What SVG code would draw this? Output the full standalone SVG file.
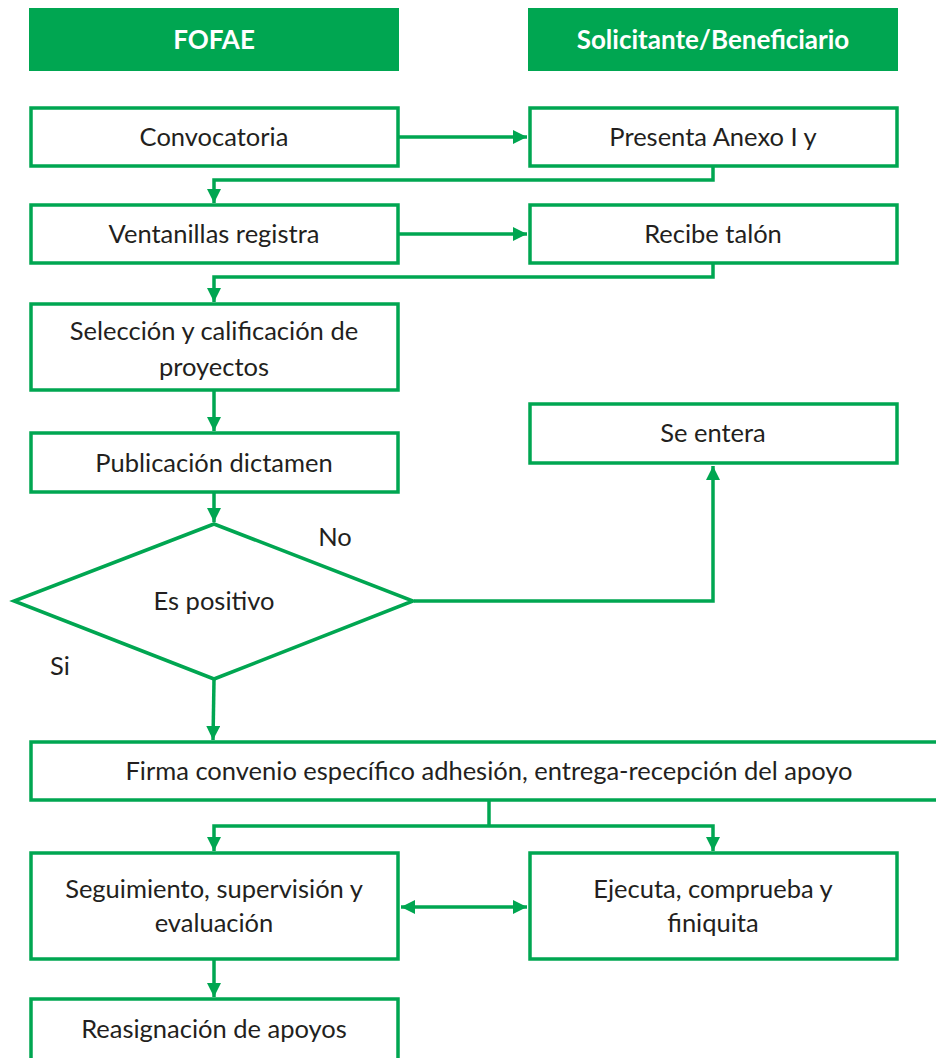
<svg xmlns="http://www.w3.org/2000/svg" width="936" height="1058" viewBox="0 0 936 1058">
<style>
.hdr{fill:#00a651}
.box{fill:#fff;stroke:#00a651;stroke-width:3.5}
.t{font-family:Lato,"Liberation Sans",sans-serif;font-size:25.5px;fill:#231f20;text-anchor:middle}
.h{font-family:Lato,"Liberation Sans",sans-serif;font-size:26px;font-weight:bold;fill:#fff;text-anchor:middle}
.c{fill:none;stroke:#00a651;stroke-width:3.5}
</style>
<defs>
<marker id="ah" viewBox="0 0 10 10" refX="10" refY="5" markerWidth="4" markerHeight="4" markerUnits="strokeWidth" orient="auto-start-reverse">
<path d="M0,0 L10,5 L0,10 Z" fill="#00a651"/>
</marker>
</defs>
<rect width="936" height="1058" fill="#fff"/>
<g id="hdr-fofae"><rect class="hdr" x="29" y="8" width="370" height="63"/><text class="h" x="214" y="49">FOFAE</text></g>
<g id="hdr-sol"><rect class="hdr" x="528" y="8" width="370" height="63"/><text class="h" x="713" y="49">Solicitante/Beneficiario</text></g>
<g id="convocatoria"><rect class="box" x="31" y="108" width="367" height="58"/><text class="t" x="214" y="146">Convocatoria</text></g>
<g id="presenta"><rect class="box" x="530" y="108" width="367" height="58"/><text class="t" x="713" y="146">Presenta Anexo I y</text></g>
<g id="ventanillas"><rect class="box" x="31" y="205" width="367" height="58"/><text class="t" x="214" y="243">Ventanillas registra</text></g>
<g id="recibe"><rect class="box" x="530" y="205" width="367" height="58"/><text class="t" x="713" y="243">Recibe talón</text></g>
<g id="seleccion"><rect class="box" x="31" y="304" width="367" height="86"/><text class="t" x="214" y="340">Selección y calificación de</text><text class="t" x="214" y="376">proyectos</text></g>
<g id="publicacion"><rect class="box" x="31" y="433" width="367" height="59"/><text class="t" x="214" y="472">Publicación dictamen</text></g>
<g id="se-entera"><rect class="box" x="530" y="404" width="367" height="59"/><text class="t" x="713" y="442">Se entera</text></g>
<g id="es-positivo"><polygon class="box" points="214,524 413,601 214,679 14,601"/><text class="t" x="214" y="610">Es positivo</text></g>
<g id="firma"><rect class="box" x="31" y="742" width="920" height="58"/><text class="t" x="489" y="780">Firma convenio específico adhesión, entrega-recepción del apoyo</text></g>
<g id="seguimiento"><rect class="box" x="31" y="853" width="367" height="106"/><text class="t" x="214" y="898">Seguimiento, supervisión y</text><text class="t" x="214" y="932">evaluación</text></g>
<g id="ejecuta"><rect class="box" x="530" y="853" width="367" height="106"/><text class="t" x="713" y="898">Ejecuta, comprueba y</text><text class="t" x="713" y="932">finiquita</text></g>
<g id="reasignacion"><rect class="box" x="31" y="999" width="367" height="70"/><text class="t" x="214" y="1038">Reasignación de apoyos</text></g>
<g id="labels"><text class="t" x="335" y="546">No</text><text class="t" x="60" y="675">Si</text></g>
<g id="connectors">
<path class="c" d="M399,137 H527" marker-end="url(#ah)"/>
<path class="c" d="M713,167 V180 H214 V203" marker-end="url(#ah)"/>
<path class="c" d="M399,234 H527" marker-end="url(#ah)"/>
<path class="c" d="M713,264 V277 H214 V302" marker-end="url(#ah)"/>
<path class="c" d="M214,391 V431" marker-end="url(#ah)"/>
<path class="c" d="M214,493 V522" marker-end="url(#ah)"/>
<path class="c" d="M414,601 H713 V466" marker-end="url(#ah)"/>
<path class="c" d="M214,680 L213,740" marker-end="url(#ah)"/>
<path class="c" d="M489,801 V826"/>
<path class="c" d="M489,826 H214 V851" marker-end="url(#ah)"/>
<path class="c" d="M489,826 H713 V851" marker-end="url(#ah)"/>
<path class="c" d="M401,907 H527" marker-start="url(#ah)" marker-end="url(#ah)"/>
<path class="c" d="M214,960 V997" marker-end="url(#ah)"/>
</g>
</svg>
